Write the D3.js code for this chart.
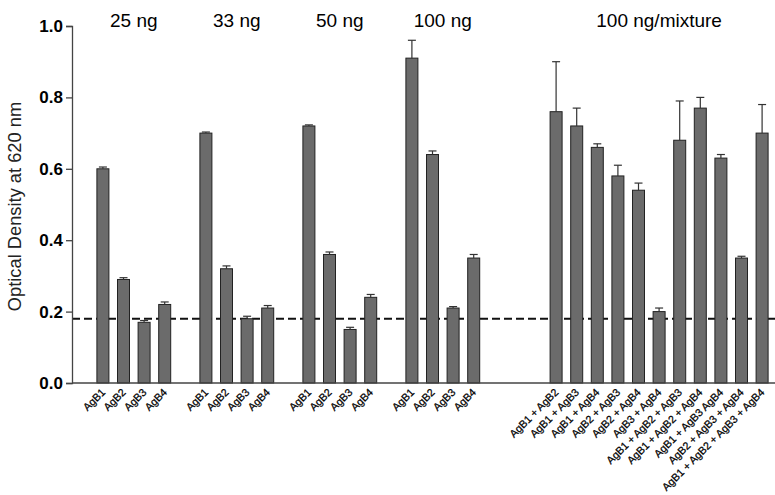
<!DOCTYPE html>
<html><head><meta charset="utf-8">
<script src="https://cdn.jsdelivr.net/npm/d3@7"></script>
<style>body{margin:0;background:#fff}svg{display:block}</style>
</head><body>
<svg id="c" width="775" height="495"></svg>
<script>
const groupTitles = ["25 ng", "33 ng", "50 ng", "100 ng", "100 ng/mixture"];
const singleLabels = ["AgB1", "AgB2", "AgB3", "AgB4"];
const values25 = [0.60, 0.29, 0.17, 0.22];
const errors25 = [0.005, 0.005, 0.005, 0.007];
const values33 = [0.70, 0.32, 0.18, 0.21];
const errors33 = [0.003, 0.008, 0.007, 0.007];
const values50 = [0.72, 0.36, 0.15, 0.24];
const errors50 = [0.003, 0.007, 0.006, 0.008];
const values100 = [0.91, 0.64, 0.21, 0.35];
const errors100 = [0.05, 0.01, 0.004, 0.01];
const mixLabels = ["AgB1 + AgB2", "AgB1 + AgB3", "AgB1 + AgB4", "AgB2 + AgB3", "AgB2 + AgB4", "AgB3 + AgB4",
  "AgB1 + AgB2 + AgB3", "AgB1 + AgB2 + AgB4", "AgB1 + AgB3 AgB4", "AgB2 + AgB3 + AgB4", "AgB1 + AgB2 + AgB3 + AgB4"];
const mixValues = [0.76, 0.72, 0.66, 0.58, 0.54, 0.20, 0.68, 0.77, 0.63, 0.35, 0.70];
const mixErrors = [0.14, 0.05, 0.01, 0.03, 0.02, 0.01, 0.11, 0.03, 0.01, 0.005, 0.08];
const yTicks = [0.0, 0.2, 0.4, 0.6, 0.8, 1.0];
const baseline = 0.18;
const yTitle = "Optical Density at 620 nm";

// slot layout: groups of 4 separated by one empty slot; mixture starts after 3 empty slots
const groupStarts = [0, 5, 10, 15, 22];
const bars = [];
[[values25, errors25], [values33, errors33], [values50, errors50], [values100, errors100]].forEach((g, gi) => {
  g[0].forEach((v, i) => bars.push({slot: groupStarts[gi] + i, label: singleLabels[i], value: v, err: g[1][i]}));
});
mixValues.forEach((v, i) => bars.push({slot: groupStarts[4] + i, label: mixLabels[i], value: v, err: mixErrors[i]}));

const font = "Liberation Sans, Arial, sans-serif";
const svg = d3.select("#c");
const x = d3.scaleLinear().domain([-1.5, 32.5]).range([72, 772.4]);
const y = d3.scaleLinear().domain([0, 1]).range([383, 26]);
const bw = 12;

// baseline dashed line
svg.append("line").attr("x1", x(-1.5)).attr("x2", 775).attr("y1", y(baseline)).attr("y2", y(baseline))
  .attr("stroke", "#111").attr("stroke-width", 2).attr("stroke-dasharray", "8,4");

// bars
svg.append("g").selectAll("rect").data(bars).join("rect")
  .attr("x", d => x(d.slot) - bw / 2).attr("width", bw)
  .attr("y", d => y(d.value)).attr("height", d => y(0) - y(d.value))
  .attr("fill", "#6b6b6b").attr("stroke", "#222").attr("stroke-width", 1);

// error bars (upper only)
const eg = svg.append("g").attr("stroke", "#333").attr("stroke-width", 1.2);
eg.selectAll("line.v").data(bars).join("line").attr("class", "v")
  .attr("x1", d => x(d.slot)).attr("x2", d => x(d.slot))
  .attr("y1", d => y(d.value)).attr("y2", d => y(d.value + d.err));
eg.selectAll("line.c").data(bars).join("line").attr("class", "c")
  .attr("x1", d => x(d.slot) - 4).attr("x2", d => x(d.slot) + 4)
  .attr("y1", d => y(d.value + d.err)).attr("y2", d => y(d.value + d.err));

// y axis
const yAxis = d3.axisLeft(y).tickValues(yTicks).tickFormat(d3.format(".1f")).tickSize(6).tickPadding(3);
const ya = svg.append("g").attr("transform", "translate(72,0)").call(yAxis);
ya.select(".domain").attr("stroke", "#444").attr("stroke-width", 1.3);
ya.selectAll(".tick line").attr("stroke", "#444").attr("stroke-width", 1.3);
ya.selectAll("text").attr("font-family", font).attr("font-size", 17)
  .attr("font-weight", "bold").attr("fill", "#000");

// x axis line
svg.append("line").attr("x1", 72).attr("x2", 775).attr("y1", y(0)).attr("y2", y(0))
  .attr("stroke", "#444").attr("stroke-width", 1.3);

// x labels rotated
svg.append("g").selectAll("text").data(bars).join("text")
  .attr("transform", d => `translate(${x(d.slot) + 3},${y(0) + 10}) rotate(-45)`)
  .attr("text-anchor", "end")
  .attr("font-family", font).attr("font-size", 10.7).attr("fill", "#000")
  .attr("stroke", "#000").attr("stroke-width", 0.25)
  .text(d => d.label);

// group titles
const titleCenters = groupStarts.map((s, i) => i < 4 ? (x(s) + x(s + 3)) / 2 : (x(s) + x(s + 10)) / 2);
svg.append("g").selectAll("text").data(groupTitles).join("text")
  .attr("x", (d, i) => titleCenters[i]).attr("y", 27).attr("text-anchor", "middle")
  .attr("font-family", font).attr("font-size", 19).attr("fill", "#000")
  .text(d => d);

// y title
svg.append("text").attr("transform", `translate(21,${y(0.5) + 2}) rotate(-90)`).attr("text-anchor", "middle")
  .attr("font-family", font).attr("font-size", 18.3).attr("fill", "#222")
  .text(yTitle);
</script>
</body></html>
